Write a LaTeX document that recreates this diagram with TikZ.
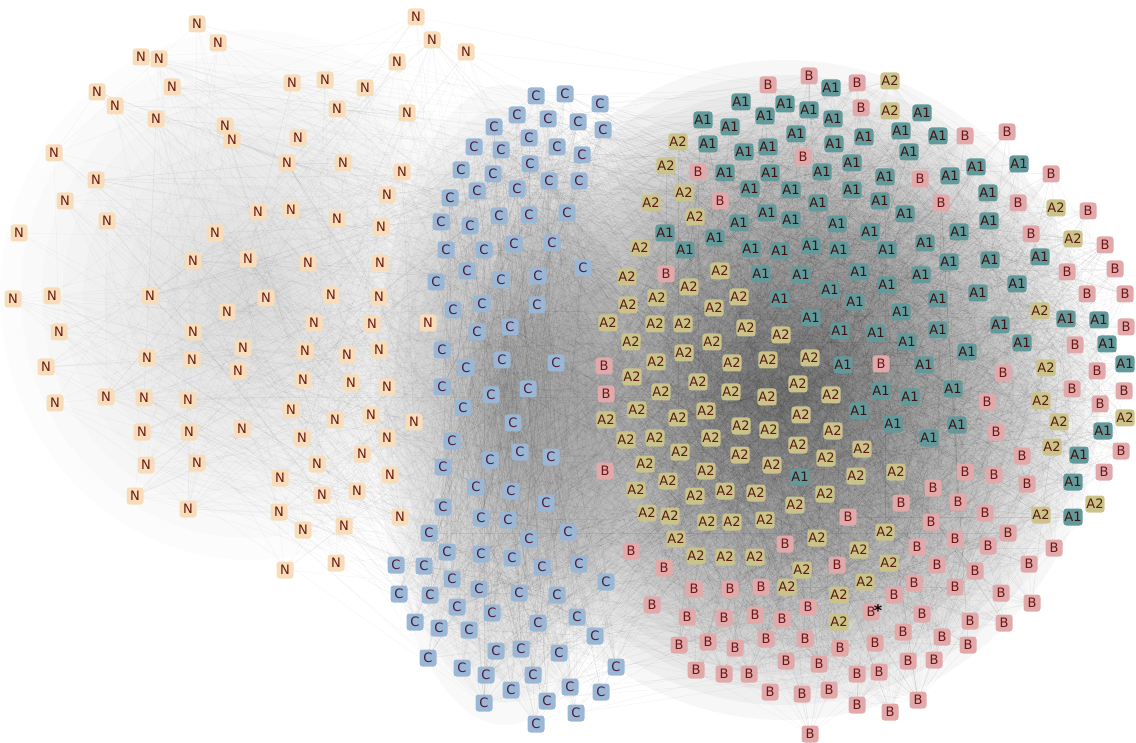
\documentclass[tikz,border=0pt]{standalone}
\usepackage{fontspec}
\setmainfont{DejaVu Sans}
\definecolor{cN}{HTML}{F8DDBA}
\definecolor{cC}{HTML}{9AB7D6}
\definecolor{cA1}{HTML}{62999A}
\definecolor{cA2}{HTML}{CAC48B}
\definecolor{cB}{HTML}{E2A9AB}
\definecolor{tN}{HTML}{6A1A14}
\definecolor{tC}{HTML}{4A1D3A}
\definecolor{tA1}{HTML}{3E1212}
\definecolor{tA2}{HTML}{5A1A10}
\definecolor{tB}{HTML}{6B1818}
\pgfdeclarelayer{bgA}
\pgfdeclarelayer{bgB}
\pgfsetlayers{bgA,bgB,main}
\tikzset{
  nd/.style={rounded corners=3pt, inner xsep=1pt, inner ysep=0pt, minimum height=17pt, minimum width=17pt,
    font=\fontsize{13}{14}\selectfont},
  lnk/.style={black, opacity=0.075, line width=0.25pt},
  lnkf/.style={black, opacity=0.06, line width=0.25pt},
  cloud/.style={black, opacity=0.03}
}
\begin{document}
\begin{tikzpicture}[x=1pt,y=-1pt]
\useasboundingbox (0,0) rectangle (1136,743);
% ---------- nodes ----------
\foreach [count=\i] \x/\y in {197/24,218/43,141/57,159/59,172/87,97/92,115/106,156/119,225/126,232/140,
54/153,96/180,65/201,107/221,19/233,258/212,215/233,416/17,432/40,466/52,397/62,292/83,325/80,365/88,
337/109,407/113,298/138,343/163,287/163,402/172,387/195,291/210,337/219,381/227,193/261,248/259,13/299,
52/296,150/296,266/298,227/312,59/332,193/332,243/348,147/358,192/360,46/367,238/371,55/403,106/397,
144/398,188/400,142/432,189/432,242/429,146/465,197/463,280/478,135/496,308/263,380/263,331/295,379/297,
314/323,372/324,428/323,305/351,347/355,379/350,303/380,351/383,387/387,291/410,335/420,371/415,414/422,
302/438,387/438,362/454,317/464,390/475,322/495,357/491,400/517,303/530,344/526,336/563,285/570,188/509,279/512}
  {\node[nd, fill=cN, text=tN] (N\i) at (\x,\y) {N}; \xdef\nN{\i}}
\foreach [count=\i] \x/\y in {536/96,565/94,600/104,517/115,548/119,578/122,603/130,494/127,529/138,474/147,
501/150,557/147,582/155,530/164,461/170,493/174,549/181,579/181,477/191,517/189,450/198,441/222,470/226,
499/216,529/215,567/213,446/250,484/250,514/244,552/243,583/268,436/282,467/271,501/280,538/276,453/310,
482/304,537/305,477/332,510/327,442/350,466/368,502/360,556/363,442/387,491/395,528/389,463/408,513/423,
452/441,490/460,520/452,551/457,443/467,476/487,511/491,546/503,443/507,481/518,508/520,429/533,529/539,
568/532,447/552,481/554,512/558,542/567,396/565,424/566,452/579,479/589,519/593,557/595,399/594,430/595,
457/607,492/613,538/623,415/622,439/628,469/630,496/651,521/649,559/653,428/658,462/668,486/675,533/675,
511/690,547/701,484/703,536/724,570/687,579/564,606/582,577/617,595/636,616/667,601/692,576/713}
  {\node[nd, fill=cC, text=tC] (C\i) at (\x,\y) {C}; \xdef\nC{\i}}
\foreach [count=\i] \t/\x/\y in {A1/831/88,A1/741/102,A1/785/104,A1/809/110,A1/833/119,A1/765/116,A1/703/120,
A1/730/127,A1/796/134,A1/708/144,A1/744/152,A1/768/147,A1/834/144,A1/725/173,A1/770/173,A1/822/172,A1/852/163,
A1/750/189,A1/791/190,A1/818/203,A1/767/213,A1/739/223,A1/791/220,A1/837/224,A1/665/233,A1/715/238,A1/685/250,
A1/751/249,A1/780/251,A1/811/246,A1/839/250,A1/922/113,A1/864/137,A1/901/131,A1/938/136,A1/909/152,A1/885/177,
A1/950/176,A1/976/167,A1/1019/164,A1/852/190,A1/880/201,A1/988/193,A1/905/214,A1/989/221,A1/870/232,A1/959/232,
A1/925/243,A1/887/250,A1/761/274,A1/801/275,A1/830/290,A1/780/299,A1/811/318,A1/840/331,A1/843/365,A1/800/477,
A1/859/272,A1/949/262,A1/990/260,A1/1040/257,A1/887/285,A1/921/275,A1/855/302,A1/938/299,A1/978/293,A1/1017/284,
A1/901/312,A1/1066/319,A1/1099/320,A1/876/333,A1/907/342,A1/938/330,A1/1000/325,A1/1022/343,A1/1107/344,
A1/967/352,A1/924/365,A1/1125/364,A1/881/391,A1/910/397,A1/953/389,A1/859/411,A1/893/424,A1/957/425,A1/1103/431,
A1/929/438,A1/1079/455,A1/1073/482,A1/1073/517,
A2/678/142,A2/666/166,A2/684/193,A2/651/203,A2/695/217,A2/640/248,A2/890/81,A2/890/111,A2/1056/208,A2/1073/239,
A2/627/277,A2/720/271,A2/689/287,A2/657/298,A2/739/297,A2/628/305,A2/714/308,A2/608/323,A2/655/324,A2/683/324,
A2/746/328,A2/781/335,A2/631/342,A2/712/342,A2/684/353,A2/656/362,A2/732/363,A2/768/360,A2/810/358,A2/632/377,
A2/698/382,A2/798/384,A2/661/392,A2/731/392,A2/767/397,A2/831/395,A2/637/410,A2/706/411,A2/606/420,A2/678/418,
A2/801/415,A2/741/426,A2/769/430,A2/833/431,A2/626/440,A2/655/438,A2/711/438,A2/680/452,A2/740/455,A2/798/445,
A2/826/458,A2/645/464,A2/706/471,A2/772/465,A2/636/490,A2/668/481,A2/695/496,A2/725/491,A2/756/493,A2/825/494,
A2/856/476,A2/795/505,A2/647/513,A2/670/516,A2/707/522,A2/732/522,A2/765/520,A2/676/539,A2/817/538,A2/696/556,
A2/725/557,A2/755/557,A2/802/570,A2/787/587,A2/839/595,A2/839/622,A2/1040/311,A2/1046/368,A2/1041/401,
A2/1059/422,A2/1125/418,A2/862/449,A2/1052/447,A2/896/472,A2/1041/515,A2/1095/504,A2/885/532,A2/859/550,
A2/889/563,A2/865/582,
B/768/85,B/809/76,B/803/157,B/698/172,B/720/201,B/857/83,B/861/108,B/965/136,B/1007/132,B/920/179,B/1051/174,
B/941/203,B/1018/203,B/1088/211,B/1031/234,B/1105/245,B/666/274,B/604/366,B/606/394,B/605/471,B/1067/272,
B/1115/269,B/1087/294,B/1125/294,B/1126/327,B/1075/345,B/881/364,B/1003/373,B/1097/371,B/987/402,B/1072/389,
B/1124/391,B/1100/404,B/996/432,B/1022/456,B/1121/451,B/965/472,B/994/475,B/1027/484,B/1104/472,B/933/488,
B/848/517,B/785/544,B/631/551,B/837/565,B/664/568,B/694/589,B/730/589,B/761/587,B/652/605,B/808/607,B/687/617,
B/724/618,B/755/615,B/782/619,B/679/645,B/708/642,B/735/648,B/766/639,B/805/639,B/840/648,B/786/661,B/819/664,
B/696/670,B/724/674,B/749/674,B/770/692,B/802/694,B/829/690,B/810/734,B/901/503,B/958/502,B/985/513,B/931/522,
B/955/539,B/1008/533,B/917/547,B/988/546,B/1054/548,B/937/565,B/975/571,B/1029/564,B/914/583,B/955/587,
B/1001/593,B/894/595,B/1032/603,B/871/612,B/922/614,B/970/621,B/1004/623,B/903/632,B/942/637,B/968/645,
B/875/643,B/908/661,B/934/660,B/857/674,B/879/672,B/918/700,B/857/705,B/890/712}
  {\node[nd, fill=c\t, text=t\t] (R\i) at (\x,\y) {\t}; \xdef\nR{\i}}
\node[font=\fontsize{16}{16}\selectfont\bfseries, inner sep=0pt] (ast) at (878,611) {*};
% ---------- background cloud ----------
\begin{pgfonlayer}{bgA}
\foreach \k in {1,...,22} \fill[cloud] (785,390) ellipse ({315pt*\k/22} and {330pt*\k/22});
\foreach \k in {1,...,14} \fill[black,opacity=0.022] (505,405) ellipse ({130pt*\k/14} and {320pt*\k/14});
\foreach \k in {1,...,12} \fill[black,opacity=0.011] (250,295) ellipse ({250pt*\k/12} and {265pt*\k/12});
\end{pgfonlayer}
% ---------- links ----------
\begin{pgfonlayer}{bgB}
\pgfmathsetseed{4242}
\foreach \k in {1,...,2200}{
  \pgfmathrandominteger{\ea}{1}{\nR}\pgfmathrandominteger{\eb}{1}{\nR}
  \draw[lnk] (R\ea.center) -- (R\eb.center);}
\foreach \k in {1,...,600}{
  \pgfmathrandominteger{\ea}{1}{\nC}\pgfmathrandominteger{\eb}{1}{\nR}
  \draw[lnk] (C\ea.center) -- (R\eb.center);}
\foreach \k in {1,...,500}{
  \pgfmathrandominteger{\ea}{1}{\nC}\pgfmathrandominteger{\eb}{1}{\nC}
  \draw[lnk] (C\ea.center) -- (C\eb.center);}
\foreach \k in {1,...,300}{
  \pgfmathrandominteger{\ea}{1}{\nN}\pgfmathrandominteger{\eb}{1}{\nC}
  \draw[lnkf] (N\ea.center) -- (C\eb.center);}
\foreach \k in {1,...,250}{
  \pgfmathrandominteger{\ea}{1}{\nN}\pgfmathrandominteger{\eb}{1}{\nR}
  \draw[lnkf] (N\ea.center) -- (R\eb.center);}
\foreach \k in {1,...,250}{
  \pgfmathrandominteger{\ea}{1}{\nN}\pgfmathrandominteger{\eb}{1}{\nN}
  \draw[lnkf] (N\ea.center) -- (N\eb.center);}
\end{pgfonlayer}
\end{tikzpicture}
\end{document}
